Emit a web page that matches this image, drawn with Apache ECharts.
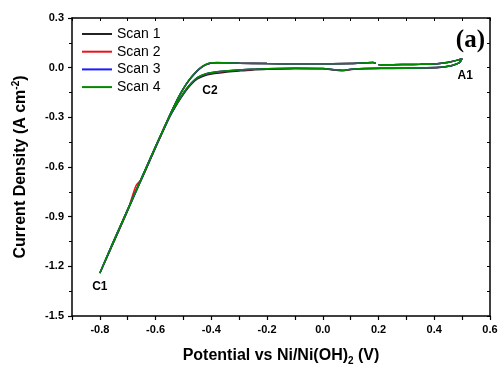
<!DOCTYPE html>
<html>
<head>
<meta charset="utf-8">
<script src="https://cdn.jsdelivr.net/npm/echarts@6/dist/echarts.min.js"></script>
<style>
html,body{margin:0;padding:0;background:#fff;}
#chart{width:502px;height:371px;}
</style>
</head>
<body>
<div id="chart"></div>
<script>
// Potential sweep path (V): start at 0.2, up to 0.5, down to -0.8, back up to ~0.2
const potential = [
  0.20, 0.25, 0.30, 0.35, 0.40, 0.43, 0.46, 0.48, 0.50,
  0.49, 0.47, 0.45, 0.42, 0.35, 0.25, 0.15, 0.10, 0.07, 0.04, 0.00, -0.10, -0.20, -0.26, -0.30, -0.35, -0.39, -0.42, -0.45, -0.47, -0.49, -0.51, -0.53, -0.55, -0.60, -0.65, -0.67, -0.70, -0.75, -0.80,
  -0.75, -0.70, -0.65, -0.60, -0.55, -0.52, -0.50, -0.48, -0.46, -0.44, -0.42, -0.40, -0.38, -0.35, -0.30, -0.20, -0.10, 0.00, 0.10, 0.16, 0.18, 0.19
];
// Current density (A cm^-2) for each scan, aligned with potential
const scan1 = [
  0.018, 0.018, 0.019, 0.020, 0.022, 0.028, 0.036, 0.044, 0.054,
  0.030, 0.016, 0.008, 0.001, -0.003, -0.005, -0.006, -0.011, -0.018, -0.014, -0.007, -0.006, -0.010, -0.015, -0.020, -0.027, -0.036, -0.046, -0.068, -0.097, -0.137, -0.186, -0.240, -0.300, -0.483, -0.672, -0.747, -0.862, -1.052, -1.242,
  -1.047, -0.857, -0.667, -0.477, -0.292, -0.187, -0.127, -0.077, -0.037, -0.004, 0.017, 0.028, 0.031, 0.030, 0.028, 0.025, 0.024, 0.024, 0.025, 0.030, 0.031, 0.026
];
const scan2 = [
  0.018, 0.018, 0.019, 0.020, 0.022, 0.028, 0.036, 0.044, 0.054,
  0.030, 0.016, 0.008, 0.002, -0.002, -0.004, -0.005, -0.011, -0.017, -0.013, -0.005, -0.004, -0.007, -0.011, -0.015, -0.021, -0.029, -0.039, -0.061, -0.091, -0.131, -0.181, -0.236, -0.296, -0.481, -0.671, -0.712, -0.861, -1.051, -1.241,
  -1.046, -0.856, -0.666, -0.476, -0.291, -0.186, -0.126, -0.076, -0.036, -0.003, 0.018, 0.028, 0.030, 0.029, 0.027, 0.025, 0.024, 0.024, 0.025, 0.030, 0.031, 0.026
];
const scan3 = [
  0.018, 0.018, 0.019, 0.020, 0.022, 0.028, 0.036, 0.044, 0.054,
  0.030, 0.016, 0.008, 0.002, -0.002, -0.004, -0.005, -0.010, -0.016, -0.012, -0.005, -0.003, -0.006, -0.010, -0.014, -0.020, -0.028, -0.038, -0.060, -0.090, -0.130, -0.180, -0.235, -0.295, -0.480, -0.670, -0.745, -0.860, -1.050, -1.240,
  -1.045, -0.855, -0.665, -0.475, -0.290, -0.185, -0.125, -0.075, -0.035, -0.003, 0.018, 0.028, 0.030, 0.029, 0.027, 0.025, 0.024, 0.024, 0.025, 0.030, 0.031, 0.026
];
const scan4 = [
  0.018, 0.018, 0.019, 0.020, 0.022, 0.028, 0.036, 0.044, 0.054,
  0.030, 0.016, 0.008, 0.002, -0.002, -0.004, -0.005, -0.010, -0.016, -0.012, -0.005, -0.003, -0.006, -0.010, -0.014, -0.020, -0.027, -0.037, -0.059, -0.089, -0.129, -0.179, -0.234, -0.294, -0.479, -0.669, -0.744, -0.859, -1.049, -1.240,
  -1.045, -0.855, -0.665, -0.475, -0.290, -0.185, -0.125, -0.074, -0.034, -0.002, 0.019, 0.029, 0.030, 0.029, 0.027, 0.025, 0.024, 0.024, 0.025, 0.030, 0.031, 0.026
];
const seriesNames = ['Scan 1', 'Scan 2', 'Scan 3', 'Scan 4'];
const seriesColors = ['#222222', '#e8141e', '#1a1aff', '#008a00'];
// Peak annotations: [label, potential, current]
const annotations = [
  ['C1', -0.80, -1.325],
  ['C2', -0.405, -0.138],
  ['A1', 0.511, -0.048]
];
const xMin = -0.9, xMax = 0.6, yMin = -1.5, yMax = 0.3;

const scans = [scan1, scan2, scan3, scan4];
const font = '"Liberation Sans", Arial, sans-serif';
const chart = echarts.init(document.getElementById('chart'));

const lineSeries = scans.map((s, i) => ({
  name: seriesNames[i],
  type: 'line',
  data: potential.map((p, k) => [p, s[k]]),
  showSymbol: false,
  symbol: 'none',
  smooth: 0.3,
  lineStyle: { color: seriesColors[i], width: 1.5 },
  itemStyle: { color: seriesColors[i] },
  z: 2 + i,
  animation: false
}));

const annoSeries = {
  type: 'scatter',
  data: annotations.map(a => ({ value: [a[1], a[2]], name: a[0] })),
  symbolSize: 0,
  itemStyle: { opacity: 1 },
  label: {
    show: true,
    position: 'inside',
    formatter: p => p.name,
    color: '#000',
    textBorderWidth: 0,
    fontFamily: font,
    fontWeight: 'bold',
    fontSize: 12
  },
  silent: true,
  animation: false
};

const fmt1 = v => {
  const r = Math.round(v * 10) / 10;
  return (Math.abs(r) < 1e-9 ? 0 : r).toFixed(1);
};

chart.setOption({
  backgroundColor: '#fff',
  animation: false,
  grid: { left: 72, right: 12, top: 18, bottom: 54 },
  legend: {
    orient: 'vertical',
    left: 82,
    top: 27,
    padding: 0,
    icon: 'rect',
    itemWidth: 30,
    itemHeight: 2,
    itemGap: 3.7,
    data: seriesNames,
    textStyle: { fontFamily: font, fontSize: 14, lineHeight: 14, color: '#000' }
  },
  xAxis: [{
    type: 'value', position: 'bottom', min: xMin, max: xMax, interval: 0.1,
    name: '{t|Potential vs Ni/Ni(OH)}{s|2}{t| (V)}',
    nameLocation: 'middle', nameGap: 30,
    nameTextStyle: {
      rich: {
        t: { fontFamily: font, fontWeight: 'bold', fontSize: 16, color: '#000' },
        s: { fontFamily: font, fontWeight: 'bold', fontSize: 10, color: '#000', padding: [10, 0, 0, 0] }
      }
    },
    axisLine: { show: true, onZero: false, lineStyle: { color: '#000', width: 1.5 } },
    axisTick: { show: true, inside: false, length: 4, lineStyle: { color: '#000', width: 1.2 } },
    axisLabel: {
      fontFamily: font, fontWeight: 'bold', fontSize: 11, color: '#000', margin: 8,
      interval: 0, hideOverlap: false,
      formatter: v => (Math.round(v * 10) % 2 === 0 ? fmt1(v) : '')
    },
    splitLine: { show: false }
  }, {
    type: 'value', position: 'top', min: xMin, max: xMax, interval: 0.1,
    axisLine: { show: true, onZero: false, lineStyle: { color: '#000', width: 1.5 } },
    axisTick: { show: true, inside: true, length: 3, lineStyle: { color: '#000', width: 1 } },
    axisLabel: { show: false },
    splitLine: { show: false }
  }],
  yAxis: [{
    type: 'value', position: 'left', min: yMin, max: yMax, interval: 0.3,
    name: '{t|Current Density (A cm}{s|-2}{t|)}',
    nameLocation: 'middle', nameGap: 41, nameRotate: 90,
    nameTextStyle: {
      rich: {
        t: { fontFamily: font, fontWeight: 'bold', fontSize: 16, color: '#000' },
        s: { fontFamily: font, fontWeight: 'bold', fontSize: 10, color: '#000', padding: [0, 0, 10, 0] }
      }
    },
    axisLine: { show: true, onZero: false, lineStyle: { color: '#000', width: 1.5 } },
    axisTick: { show: true, inside: false, length: 4, lineStyle: { color: '#000', width: 1.2 } },
    minorTick: { show: true, splitNumber: 2, length: 3, lineStyle: { color: '#000', width: 1 } },
    axisLabel: { fontFamily: font, fontWeight: 'bold', fontSize: 11, color: '#000', margin: 8, formatter: fmt1 },
    splitLine: { show: false }
  }, {
    type: 'value', position: 'right', min: yMin, max: yMax, interval: 0.15,
    axisLine: { show: true, onZero: false, lineStyle: { color: '#000', width: 1.5 } },
    axisTick: { show: true, inside: true, length: 3, lineStyle: { color: '#000', width: 1 } },
    axisLabel: { show: false },
    splitLine: { show: false }
  }],
  graphic: [{
    type: 'text', right: 17, top: 28,
    style: { text: '(a)', fontFamily: '"Liberation Serif", "Times New Roman", serif', fontWeight: 'bold', fontSize: 25, fill: '#000' }
  }],
  series: [...lineSeries, annoSeries]
});
</script>
</body>
</html>
